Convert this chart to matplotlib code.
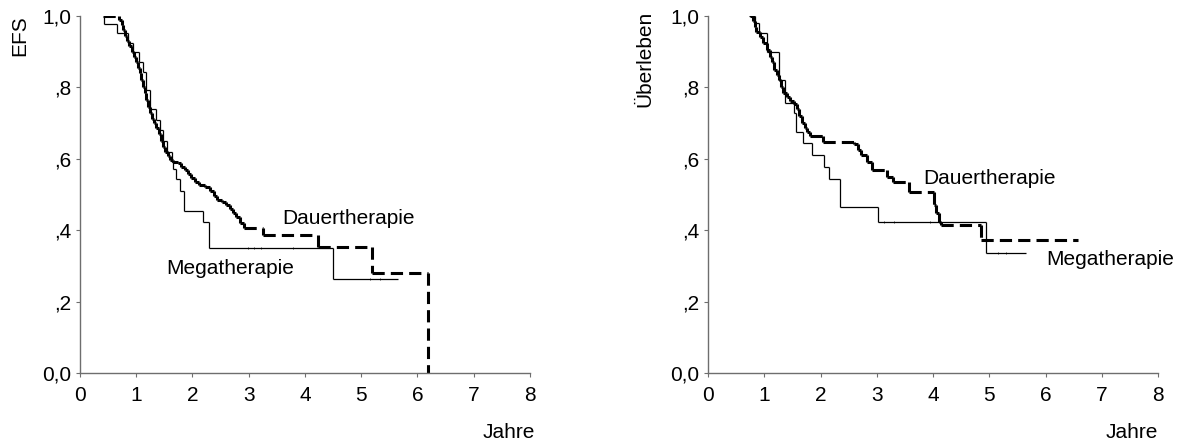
import matplotlib
matplotlib.use("Agg")
import matplotlib.pyplot as plt
from matplotlib.collections import LineCollection

plt.rcParams["font.family"] = ["Liberation Sans", "DejaVu Sans"]

# ─────────────────────────────────────────────
# DATA (Kaplan-Meier steps)
# ─────────────────────────────────────────────

# EFS - Dauertherapie
efs_dauer_start = (0.41, 1.0)
efs_dauer_t = [0.70, 0.74, 0.77, 0.80, 0.84, 0.88, 0.92, 0.96, 1.00, 1.03, 1.06, 1.09,
               1.12, 1.15, 1.18, 1.21, 1.24, 1.28, 1.32, 1.36, 1.40, 1.44, 1.48, 1.52,
               1.56, 1.60, 1.66, 1.74, 1.80, 1.86, 1.92, 1.98, 2.04, 2.12, 2.22, 2.31,
               2.38, 2.44, 2.52, 2.60, 2.66, 2.72, 2.78, 2.84, 2.92, 3.26, 4.23, 5.20, 6.19]
efs_dauer_s = [0.99, 0.975, 0.96, 0.945, 0.93, 0.915, 0.90, 0.885, 0.87, 0.855, 0.84, 0.82,
               0.80, 0.785, 0.765, 0.745, 0.728, 0.712, 0.70, 0.686, 0.67, 0.65, 0.634, 0.62,
               0.607, 0.597, 0.592, 0.588, 0.578, 0.568, 0.557, 0.545, 0.535, 0.527, 0.52, 0.51,
               0.497, 0.485, 0.478, 0.47, 0.46, 0.448, 0.436, 0.42, 0.405, 0.387, 0.354, 0.281, 0.0]
efs_dauer_end = 6.19

# EFS - Megatherapie
efs_mega_start = (0.43, 1.0)
efs_mega_t = [0.43, 0.65, 0.85, 0.94, 1.05, 1.12, 1.17, 1.24, 1.35, 1.42, 1.48, 1.55,
              1.63, 1.66, 1.70, 1.78, 1.85, 2.19, 2.30, 4.49]
efs_mega_s = [0.977, 0.951, 0.925, 0.90, 0.872, 0.844, 0.793, 0.74, 0.709, 0.68, 0.65, 0.62,
              0.592, 0.571, 0.543, 0.511, 0.455, 0.424, 0.351, 0.263]
efs_mega_end = 5.65
efs_mega_cens = [2.98, 3.10, 3.22, 3.78, 5.15, 5.33]

# Überleben - Dauertherapie
os_dauer_start = (0.74, 1.0)
os_dauer_t = [0.80, 0.83, 0.86, 0.92, 0.98, 1.05, 1.10, 1.14, 1.18, 1.22, 1.26, 1.30,
              1.34, 1.40, 1.46, 1.52, 1.58, 1.62, 1.67, 1.72, 1.76, 1.82, 2.05, 2.60,
              2.66, 2.72, 2.83, 2.92, 3.19, 3.28, 3.58, 4.02, 4.05, 4.11, 4.14, 4.85]
os_dauer_s = [0.985, 0.97, 0.955, 0.942, 0.925, 0.905, 0.885, 0.87, 0.85, 0.835, 0.82, 0.80,
              0.783, 0.772, 0.762, 0.752, 0.740, 0.72, 0.70, 0.686, 0.676, 0.665, 0.648, 0.640,
              0.625, 0.611, 0.592, 0.569, 0.55, 0.536, 0.508, 0.47, 0.447, 0.424, 0.415, 0.373]
os_dauer_end = 6.58

# Überleben - Megatherapie
os_mega_start = (0.72, 1.0)
os_mega_t = [0.84, 0.91, 1.05, 1.27, 1.36, 1.52, 1.57, 1.68, 1.85, 2.07, 2.15, 2.34,
             3.02, 4.95]
os_mega_s = [0.98, 0.952, 0.90, 0.82, 0.756, 0.728, 0.676, 0.643, 0.611, 0.578, 0.543, 0.466,
             0.424, 0.337]
os_mega_end = 5.66
os_mega_cens = [3.12, 3.30, 3.95, 5.15, 5.30]

x_ticks = [0, 1, 2, 3, 4, 5, 6, 7, 8]
y_ticks = [0.0, 0.2, 0.4, 0.6, 0.8, 1.0]
y_ticklabels = ["0,0", ",2", ",4", ",6", ",8", "1,0"]


def step_segments(start, times, surv, end):
    """turn KM steps into separate horizontal / vertical segments"""
    segs = []
    x0, s0 = start
    for t, s in zip(times, surv):
        if t > x0:
            segs.append([(x0, s0), (t, s0)])
        segs.append([(t, s0), (t, s)])
        x0, s0 = t, s
    if end > x0:
        segs.append([(x0, s0), (end, s0)])
    return segs


def step_value(start, times, surv, x):
    s = start[1]
    for t, v in zip(times, surv):
        if t <= x:
            s = v
    return s


def style_axes(ax):
    ax.set_xlim(0, 8)
    ax.set_ylim(0, 1)
    for side in ["top", "right"]:
        ax.spines[side].set_visible(False)
    for side in ["left", "bottom"]:
        ax.spines[side].set_color("#6e6e6e")
        ax.spines[side].set_linewidth(1.0)
    ax.set_xticks(x_ticks)
    ax.set_yticks(y_ticks)
    ax.set_yticklabels(y_ticklabels)
    ax.tick_params(axis="both", length=3, width=0.8, color="#6e6e6e",
                   labelsize=15, pad=3)
    ax.tick_params(axis="x", pad=6)


def draw_km(ax, dauer, mega, cens):
    d_segs = step_segments(*dauer)
    ax.add_collection(LineCollection(d_segs, colors="black", linewidths=2.2,
                                     linestyles=[(0, (4, 2))], capstyle="butt"))
    m_segs = step_segments(*mega)
    ax.add_collection(LineCollection(m_segs, colors="black", linewidths=0.9))
    ys = [step_value(mega[0], mega[1], mega[2], c) for c in cens]
    ax.plot(cens, ys, ls="none", marker="|", ms=2, mew=0.5, color="black")


fig = plt.figure(figsize=(11.88, 4.43), dpi=100)
ax1 = fig.add_axes([0.0673, 0.158, 0.3788, 0.806])
ax2 = fig.add_axes([0.596, 0.158, 0.3788, 0.806])

style_axes(ax1)
draw_km(ax1,
        (efs_dauer_start, efs_dauer_t, efs_dauer_s, efs_dauer_end),
        (efs_mega_start, efs_mega_t, efs_mega_s, efs_mega_end),
        efs_mega_cens)
ax1.text(3.6, 0.434, "Dauertherapie", fontsize=15, va="center", ha="left")
ax1.text(1.53, 0.294, "Megatherapie", fontsize=15, va="center", ha="left")

style_axes(ax2)
draw_km(ax2,
        (os_dauer_start, os_dauer_t, os_dauer_s, os_dauer_end),
        (os_mega_start, os_mega_t, os_mega_s, os_mega_end),
        os_mega_cens)
ax2.text(3.82, 0.546, "Dauertherapie", fontsize=15, va="center", ha="left")
ax2.text(6.02, 0.317, "Megatherapie", fontsize=15, va="center", ha="left")

# axis titles placed like the original (top-left and bottom-right)
fig.text(19.5 / 1188, 1 - 36 / 443, "EFS", rotation=90, fontsize=15,
         ha="center", va="center")
fig.text(645 / 1188, 1 - 59 / 443, "Überleben", rotation=90, fontsize=15,
         ha="center", va="center")
fig.text(535 / 1188, 1 - 432 / 443, "Jahre", fontsize=15, ha="right", va="center")
fig.text(1158 / 1188, 1 - 432 / 443, "Jahre", fontsize=15, ha="right", va="center")

plt.savefig("out.png", dpi=100)
